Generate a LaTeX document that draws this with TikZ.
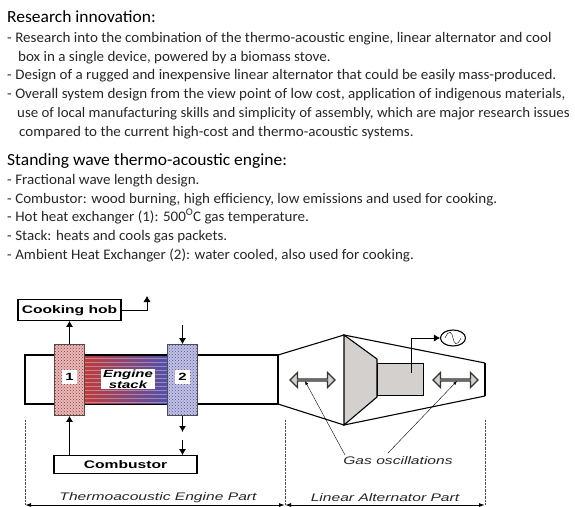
\documentclass[tikz,border=0pt]{standalone}
\usepackage{fontspec}
\usepackage{tikz}
\usetikzlibrary{calc}
\usetikzlibrary{patterns}
\usetikzlibrary{positioning}
\usetikzlibrary{arrows.meta}
\usetikzlibrary{shapes.geometric}
\usetikzlibrary{shapes.arrows}
\setmainfont[FakeStretch=1.03]{Carlito}
\newfontfamily\diagfont[FakeStretch=1.42]{Liberation Sans}
\definecolor{partgray}{RGB}{212,208,206}
\definecolor{hotred}{RGB}{190,60,60}
\definecolor{coldblue}{RGB}{80,80,170}

\begin{document}
\begin{tikzpicture}[
		x=1pt,y=-1pt,
		heading/.style={anchor=base west,inner sep=0pt,font=\fontsize{17}{19}\selectfont},
		txt/.style={anchor=base west,inner sep=0pt,text=black!85,font=\fontsize{14.6}{16}\selectfont},
		labelbox/.style={draw=black,line width=1.1pt,inner sep=0pt,text depth=0pt,font=\diagfont\bfseries\fontsize{11}{12}\selectfont},
		partlabel/.style={inner sep=0pt,text=black!85,font=\diagfont\itshape\fontsize{11}{12}\selectfont},
		flow/.style={-{Latex[length=6pt,width=7pt]},line width=1pt},
		dim/.style={{Latex[length=6pt,width=4pt]}-{Latex[length=6pt,width=4pt]},line width=1pt},
		guide/.style={densely dotted,black!70},
		osc/.style={double arrow,draw=black!80,line width=1.1pt,fill=partgray,inner sep=0pt,minimum width=15pt,
			minimum height=45pt,double arrow head extend=3.5pt},
		hx/.style={draw=black!70,line width=1.1pt,minimum width=29.5pt,minimum height=70.5pt,inner sep=0pt}
		]
		\useasboundingbox (0,0) rectangle (575,506);
		
		% Text block
		\node[heading] (h1) at (7,22) {Research innovation:};
		\node[txt] (l1) at (7,42) {-\hspace{3.5pt}Research into the combination of the thermo-acoustic engine, linear alternator and cool};
		\node[txt] (l2) at (18,61) {box in a single device, powered by a biomass stove.};
		\node[txt] (l3) at (7,79) {-\hspace{3.5pt}Design of a rugged and inexpensive linear alternator that could be easily mass-produced.};
		\node[txt] (l4) at (7,98) {-\hspace{3.5pt}Overall system design from the view point of low cost, application of indigenous materials,};
		\node[txt,font=\fontsize{14.45}{16}\selectfont] (l5) at (17,117) {use of local manufacturing skills and simplicity of assembly, which are major research issues};
		\node[txt] (l6) at (19,136) {compared to the current high-cost and thermo-acoustic systems.};
		\node[heading] (h2) at (7,165) {Standing wave thermo-acoustic engine:};
		\node[txt] (l7) at (7,184) {-\hspace{3.5pt}Fractional wave length design.};
		\node[txt] (l8) at (7,203) {-\hspace{3.5pt}Combustor: wood burning, high efficiency, low emissions and used for cooking.};
		\node[txt] (l9) at (7,221) {-\hspace{3.5pt}Hot heat exchanger (1): 500$^{\mathrm{O}}$C gas temperature.};
		\node[txt] (l10) at (7,240) {-\hspace{3.5pt}Stack: heats and cools gas packets.};
		\node[txt] (l11) at (7,259) {-\hspace{3.5pt}Ambient Heat Exchanger (2): water cooled, also used for cooking.};
		
		% Engine tube and stack
		\node[draw=black,line width=1.1pt,minimum width=253pt,minimum height=49pt,inner sep=0pt] (tube) at (151.5,379.5) {};
		\node[minimum width=84pt,minimum height=47pt,inner sep=0pt,left color=hotred,right color=coldblue] (stack) at (126,379.5) {};
		\foreach \y in {358,362,...,402}
		\draw[white,opacity=.35,line width=1pt] (84,\y) -- (168,\y);
		\node[fill=white,minimum width=54pt,minimum height=20pt,inner sep=0pt,align=center,
			font=\diagfont\bfseries\itshape\fontsize{10.5}{9.5}\selectfont] (stacklabel) at (128,379) {Engine\\stack};
		
		% Heat exchangers
		\node[hx,fill=hotred!35] (hx1) at (69.5,380) {};
		\fill[pattern=crosshatch dots,pattern color=hotred!80!black] (hx1.south west) rectangle (hx1.north east);
		\node[fill=white,inner sep=3pt,font=\diagfont\bfseries\fontsize{10.5}{11}\selectfont] (one) at (69.5,377) {1};
		\node[hx,fill=coldblue!35] (hx2) at (182.5,380) {};
		\fill[pattern=crosshatch dots,pattern color=coldblue] (hx2.south west) rectangle (hx2.north east);
		\node[fill=white,inner sep=3pt,font=\diagfont\bfseries\fontsize{10.5}{11}\selectfont] (two) at (182.5,377) {2};
		
		% Boxes
		\node[labelbox,minimum width=103pt,minimum height=20.5pt] (hob) at (69.5,310) {Cooking hob};
		\node[labelbox,minimum width=143pt,minimum height=17.5pt] (comb) at (125.5,464.5) {Combustor};
		
		% Free ends of the flows
		\coordinate (hobout) at (147,296);
		\coordinate (coolin) at (182.5,325);
		\coordinate (coolout) at (182.5,432);
		\coordinate (combin) at (182.5,440);
		
		% Flows
		\draw[flow] (hx1.north) -- (hob.south);
		\draw[flow,line width=.4pt] (hob.east) -| (hobout);
		\draw[flow] (coolin) -- (hx2.north);
		\draw[flow] (hx2.south) -- (coolout);
		\draw[flow] (combin) -- (comb.north -| combin);
		\draw[flow] (comb.north -| hx1) -- (hx1.south);
		
		% Alternator casing
		\coordinate (c1) at (278,355);
		\coordinate (c2) at (344,335);
		\coordinate (c3) at (485,363);
		\coordinate (c4) at (485,396);
		\coordinate (c5) at (344,425);
		\coordinate (c6) at (278,404);
		\draw[line width=1.1pt] (c1) -- (c2) -- (c3);
		\draw[line width=1.1pt] (c6) -- (c5) -- (c4);
		\draw[line width=2.5pt] (c3) -- (c4);
		
		% Piston and magnet
		\draw[line width=1.1pt,fill=partgray] (c2) -- (377,359) -- (377,397) -- (c5) -- cycle;
		\node[draw=black,line width=1.1pt,fill=partgray,minimum width=46.5pt,minimum height=32.5pt,inner sep=0pt] (magnet) at (400.5,379.5) {};
		
		% Generator
		\node[ellipse,draw=black,line width=1.1pt,minimum width=25pt,minimum height=16pt,inner sep=0pt] (gen) at (453,338) {};
		\draw[thin] ($(gen.center)+(-8,0)$) .. controls ($(gen.center)+(-4,-9)$) and ($(gen.center)+(-1,-6)$) .. (gen.center)
			.. controls ($(gen.center)+(1,6)$) and ($(gen.center)+(4,9)$) .. ($(gen.center)+(8,0)$);
		\coordinate (lead) at (411,373);
		\draw[flow,line width=.4pt] (lead) |- (gen.west);
		
		% Gas oscillations
		\node[osc] (osc1) at (312.5,380) {};
		\node[osc] (osc2) at (455.5,380) {};
		\node[partlabel] (gas) at (398,461) {Gas oscillations};
		\coordinate (gasa) at (345,455);
		\coordinate (gasb) at (388,453);
		\draw[-{Latex[length=4pt,width=3pt]},thin] (gasa) -- (305,381);
		\draw[-{Latex[length=4pt,width=3pt]},thin] (gasb) -- (457,381);
		
		% Part limits
		\coordinate (p1) at (25,505);
		\coordinate (p2) at (285,505);
		\coordinate (p3) at (485,505);
		\draw[guide] (25,420) -- (p1);
		\draw[guide] (285,420) -- (p2);
		\draw[guide] (485,420) -- (p3);
		\draw[dim] (p1) -- (p2);
		\draw[dim] (p2) -- (p3);
		\node[partlabel] (enginepart) at (158,498) {Thermoacoustic Engine Part};
		\node[partlabel] (altpart) at (385,498) {Linear Alternator Part};
		
	\end{tikzpicture}
\end{document}
